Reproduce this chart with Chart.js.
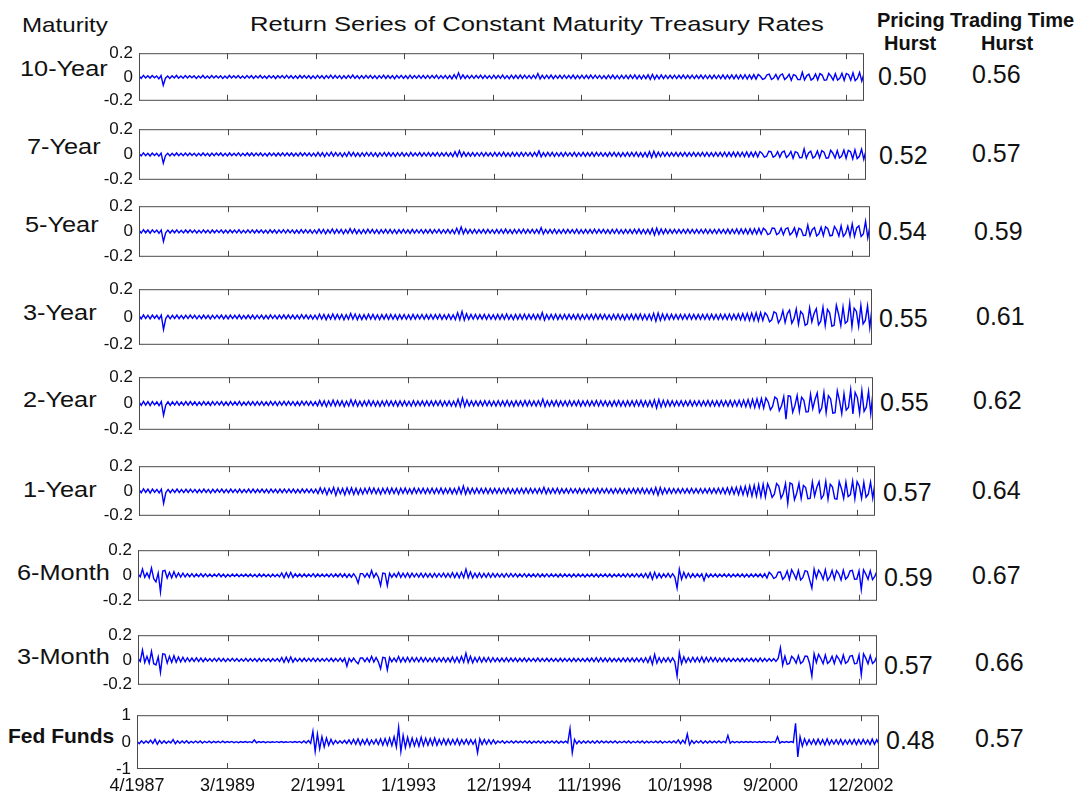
<!DOCTYPE html>
<html>
<head>
<meta charset="utf-8">
<script src="https://cdn.jsdelivr.net/npm/chart.js@4.4.1/dist/chart.umd.min.js"></script>
<style>
  body { margin: 0; background: #fff; }
  #page { position: relative; width: 1087px; height: 799px; overflow: hidden; font-family: "Liberation Sans", Arial, sans-serif; color: #111; }
  .txt { position: absolute; white-space: nowrap; line-height: 1; transform-origin: left center; }
  canvas { position: absolute; }
</style>
</head>
<body>
<div id="page"></div>
<script>
const maturities = ['10-Year', '7-Year', '5-Year', '3-Year', '2-Year', '1-Year', '6-Month', '3-Month', 'Fed Funds'];
const pricingHurst = ['0.50', '0.52', '0.54', '0.55', '0.55', '0.57', '0.59', '0.57', '0.48'];
const tradingHurst = ['0.56', '0.57', '0.59', '0.61', '0.62', '0.64', '0.67', '0.66', '0.57'];

// trading-day index on the x axis, labelled with dates
const xTickDays = [0, 500, 1000, 1500, 2000, 2500, 3000, 3500, 4000];
const xTickLabels = ['4/1987', '3/1989', '2/1991', '1/1993', '12/1994', '11/1996', '10/1998', '9/2000', '12/2002'];
const lastDay = 4100;

const rateTicks = [-0.2, 0, 0.2];
const rateTickLabels = ['-0.2', '0', '0.2'];
const fedTicks = [-1, 0, 1];
const fedTickLabels = ['-1', '0', '1'];

/* returns, in thousandths, evenly spaced over the period */
const tenYear = [
  10,-12,14,-8,11,-9,13,-6,9,-15, 12,-70,-10,9,-12,11,-8,13,-10,8,
  -11,12,-9,10,-7,11,-12,9,-8,13, -10,8,-11,12,-9,10,-8,11,-12,9,
  -10,13,-8,11,-9,12,-11,8,-10,12, -9,11,-12,10,-8,13,-10,9,-11,12,
  -8,10,-13,11,-9,12,-10,14,-9,11, -12,10,-11,13,-9,12,-10,11,-13,10,
  -12,14,-10,11,-13,12,-9,15,-11,13, -10,12,-14,11,-12,13,-10,16,-12,11,
  -13,12,-11,14,-10,13,-12,11,-14,12, -10,15,-12,13,-11,12,-14,13,-10,14,
  -12,11,-13,15,-11,12,-10,14,-12,13, -11,14,-12,13,-10,15,-13,12,-11,14,
  -13,12,-15,20,-12,35,-14,18,-12,13, -11,14,-12,13,-10,15,-12,14,-11,12,
  -13,15,-12,14,-11,16,-13,12,-14,15, -12,14,-13,16,-12,15,-11,14,-13,15,
  -12,30,-16,14,-13,15,-12,16,-14,13, -12,14,-13,15,-11,13,-12,16,-14,13,
  -12,15,-13,14,-12,16,-13,15,-11,14, -13,12,-14,15,-12,16,-14,13,-15,14,
  -13,15,-14,16,-13,17,-15,14,-16,15, -14,18,-20,22,-18,16,-15,17,-14,15,
  -13,14,-12,15,-13,14,-12,16,-13,14, -12,15,-13,14,-12,16,-14,15,-13,14,
  -14,16,-13,15,-14,17,-15,16,-14,18, -16,18,-15,17,-16,19,-17,18,-16,20,
  -18,22,6,-20,-12,19,24,-21,-8,22, -20,15,26,-22,-5,23,-28,20,12,-22,
  -22,40,-25,10,24,-26,-12,25,-24,28, 16,-27,-24,30,8,-26,28,-25,-10,32,
  -28,30,20,-27,35,-30,-12,38,-35,30
];
const sevenYear = [
  9,-11,13,-9,10,-12,12,-7,10,-13, 11,-68,-9,10,-11,10,-9,12,-10,9,
  -10,11,-9,12,-8,10,-11,9,-10,12, -9,10,-12,11,-9,11,-8,12,-11,10,
  -11,12,-9,10,-10,13,-11,9,-10,12, -10,12,-11,11,-9,12,-11,10,-12,13,
  -9,11,-12,12,-10,13,-11,13,-10,12, -12,11,-12,14,-10,13,-11,12,-13,11,
  -14,16,-13,15,-16,14,-12,18,-13,15, -12,14,-16,13,-14,20,-13,17,-15,13,
  -15,14,-13,16,-12,15,-14,13,-16,14, -12,16,-13,15,-13,14,-15,14,-12,15,
  -13,12,-14,16,-12,13,-11,15,-13,14, -12,15,-13,14,-11,16,-14,13,-12,15,
  -14,13,-16,22,-15,30,-16,19,-14,15, -13,15,-13,14,-12,16,-13,15,-12,13,
  -14,16,-13,15,-13,18,-14,13,-15,16, -13,15,-14,17,-13,16,-12,15,-14,16,
  -13,28,-18,15,-14,16,-13,17,-15,14, -13,15,-14,16,-12,14,-13,17,-15,14,
  -13,16,-14,15,-13,17,-14,16,-12,15, -14,13,-15,16,-13,17,-15,14,-16,15,
  -14,16,-15,17,-14,18,-16,15,-17,16, -18,22,-24,25,-20,18,-16,18,-15,16,
  -14,15,-13,16,-14,15,-13,17,-14,15, -13,16,-14,15,-13,17,-15,16,-14,15,
  -15,17,-14,16,-15,18,-16,17,-15,19, -17,19,-16,18,-17,20,-18,19,-17,21,
  -19,23,8,-21,-14,25,22,-21,-10,23, -21,17,27,-23,-6,24,-30,22,14,-26,
  -24,45,-28,12,26,-28,-14,27,-26,30, 18,-30,-26,33,10,-28,31,-27,-12,35,
  -30,33,22,-34,36,-32,-14,42,-38,34
];
const fiveYear = [
  11,-12,14,-10,12,-13,13,-8,11,-14, 12,-80,-10,11,-12,11,-10,13,-11,10,
  -11,12,-10,13,-9,11,-12,10,-11,13, -10,11,-13,12,-10,12,-9,13,-12,11,
  -12,13,-10,11,-11,14,-12,10,-11,13, -11,13,-12,12,-10,13,-12,11,-13,14,
  -10,12,-13,13,-11,14,-12,14,-11,13, -13,12,-13,15,-11,14,-12,13,-14,12,
  -15,18,-14,16,-18,15,-13,20,-15,17, -13,16,-18,14,-15,22,-14,19,-17,14,
  -16,15,-14,18,-13,16,-15,14,-17,15, -13,17,-14,16,-14,15,-16,15,-13,16,
  -14,13,-15,17,-13,14,-12,16,-14,15, -13,16,-14,15,-12,17,-15,14,-13,16,
  -15,14,-17,25,-17,35,-18,20,-15,16, -14,16,-14,15,-13,17,-14,16,-13,14,
  -15,17,-14,16,-14,19,-15,14,-16,17, -14,16,-15,18,-14,17,-13,16,-15,17,
  -14,30,-20,16,-15,17,-14,18,-16,15, -14,16,-15,17,-13,15,-14,18,-16,15,
  -14,17,-15,16,-14,18,-15,17,-13,16, -15,14,-16,17,-14,18,-16,15,-17,16,
  -15,17,-16,18,-15,19,-17,16,-18,17, -20,24,-28,26,-22,20,-18,19,-16,17,
  -15,16,-14,17,-15,16,-14,18,-15,16, -14,17,-15,16,-14,18,-16,17,-15,16,
  -16,18,-15,17,-16,19,-17,18,-16,20, -18,21,-17,20,-19,22,-20,21,-19,24,
  -21,26,10,-24,-16,28,25,-24,-12,27, -25,20,30,-27,-8,29,-36,25,16,-31,
  -30,50,-34,14,31,-35,-18,34,-33,38, 22,-34,-30,40,12,-36,45,-38,-15,42,
  -36,60,-40,28,45,-40,-20,80,-50,48
];
const threeYear = [
  12,-13,15,-11,13,-14,14,-9,12,-15, 13,-90,-11,12,-13,12,-11,14,-12,11,
  -12,13,-11,14,-10,12,-13,11,-12,14, -11,12,-14,13,-11,13,-10,14,-13,12,
  -13,14,-11,12,-12,15,-13,11,-12,14, -12,14,-13,13,-11,14,-13,12,-14,15,
  -11,13,-14,14,-12,15,-13,15,-12,14, -14,13,-14,16,-12,15,-13,14,-15,13,
  -16,20,-15,18,-20,17,-15,22,-16,19, -15,18,-20,16,-17,25,-16,21,-19,16,
  -18,17,-16,20,-15,18,-17,16,-19,17, -15,19,-16,18,-16,17,-18,17,-15,18,
  -16,15,-17,19,-15,16,-14,18,-16,17, -15,18,-16,17,-14,19,-17,16,-15,18,
  -17,16,-19,30,-20,40,-22,24,-17,18, -16,18,-16,17,-15,19,-16,18,-15,16,
  -17,19,-16,18,-16,21,-17,16,-18,19, -16,18,-17,20,-16,19,-15,18,-17,19,
  -16,32,-22,18,-17,19,-16,20,-18,17, -16,18,-17,19,-15,17,-16,20,-18,17,
  -16,19,-17,18,-16,20,-17,19,-15,18, -17,16,-18,19,-16,20,-18,17,-19,18,
  -17,19,-18,20,-17,21,-19,18,-20,19, -22,26,-30,28,-24,22,-20,21,-18,19,
  -17,18,-16,19,-17,18,-16,20,-17,18, -16,19,-17,18,-16,20,-18,19,-17,18,
  -18,20,-17,19,-18,21,-19,20,-18,22, -20,24,-22,26,-24,28,-25,30,-28,32,
  -25,30,10,-35,-20,38,28,-42,-15,45, -40,25,50,-45,-12,58,-52,40,20,-60,
  -50,66,-35,25,60,-56,-30,70,-62,55, 30,-66,-60,85,20,-62,72,-45,-30,100,
  -70,64,40,-68,84,-50,-25,80,-76,68
];
const twoYear = [
  13,-14,16,-12,14,-15,15,-10,13,-16, 14,-90,-12,13,-14,13,-12,15,-13,12,
  -13,14,-12,15,-11,13,-14,12,-13,15, -12,13,-15,14,-12,14,-11,15,-14,13,
  -14,15,-12,13,-13,16,-14,12,-13,15, -13,15,-14,14,-12,15,-14,13,-15,16,
  -12,14,-15,15,-13,16,-14,16,-13,15, -15,14,-15,17,-13,16,-14,15,-16,14,
  -18,22,-17,20,-22,19,-17,25,-18,21, -17,20,-22,18,-19,28,-18,23,-21,18,
  -20,19,-18,22,-17,20,-19,18,-21,19, -17,21,-18,20,-18,19,-20,19,-17,20,
  -18,17,-19,21,-17,18,-16,20,-18,19, -17,20,-18,19,-16,21,-19,18,-17,20,
  -19,18,-21,32,-22,42,-24,26,-19,20, -18,20,-18,19,-17,21,-18,20,-17,18,
  -19,21,-18,20,-18,23,-19,18,-20,21, -18,20,-19,22,-18,21,-17,20,-19,21,
  -18,34,-24,20,-19,21,-18,22,-20,19, -18,20,-19,21,-17,19,-18,22,-20,19,
  -18,21,-19,20,-18,22,-19,21,-17,20, -19,18,-20,21,-18,22,-20,19,-21,20,
  -19,21,-20,22,-19,23,-21,20,-22,21, -24,28,-34,30,-26,24,-22,23,-20,21,
  -19,20,-18,21,-19,20,-18,22,-19,20, -18,21,-19,20,-18,22,-20,21,-19,20,
  -20,22,-19,21,-20,23,-21,22,-20,24, -22,26,-24,30,-28,32,-30,35,-32,38,
  -35,42,12,-48,-22,50,35,-55,-18,52, -120,60,55,-66,-15,62,-60,48,25,-64,
  -62,70,-40,30,80,-68,-35,84,-70,60, 35,-74,-70,96,22,-78,74,-50,-30,105,
  -80,84,45,-74,98,-60,-28,92,-78,88
];
const oneYear = [
  13,-14,17,-12,15,-16,15,-10,13,-16, 14,-100,-12,13,-14,13,-12,15,-13,12,
  -13,14,-12,15,-11,13,-14,12,-13,15, -12,13,-15,14,-12,14,-11,15,-14,13,
  -14,15,-12,13,-13,16,-14,12,-13,15, -13,15,-14,14,-12,15,-14,13,-15,16,
  -12,14,-15,15,-13,16,-14,16,-13,15, -15,14,-15,17,-13,16,-14,15,-16,14,
  -20,25,-18,22,-30,20,-18,28,-35,24, -22,20,-30,26,-22,25,-28,22,-26,20,
  -24,22,-20,26,-19,24,-22,20,-25,22, -20,24,-21,23,-20,22,-24,22,-19,23,
  -20,19,-21,24,-19,20,-18,22,-20,21, -19,22,-20,21,-18,23,-21,20,-19,22,
  -21,20,-23,30,-22,40,-25,25,-21,22, -20,22,-19,21,-18,23,-20,21,-19,20,
  -19,21,-18,20,-18,22,-19,18,-20,21, -18,20,-19,22,-18,21,-17,20,-19,21,
  -18,30,-22,20,-19,21,-18,22,-20,19, -17,19,-18,20,-16,18,-17,21,-19,18,
  -17,20,-18,19,-17,21,-18,20,-16,19, -18,17,-19,20,-17,21,-19,18,-20,19,
  -18,20,-19,21,-18,22,-20,19,-21,20, -24,28,-32,28,-24,22,-20,21,-18,20,
  -18,19,-17,20,-18,19,-17,21,-18,19, -17,20,-18,19,-17,21,-19,20,-18,22,
  -20,24,-22,26,-24,28,-25,30,-28,34, -30,38,-35,42,-40,45,-42,50,-45,55,
  -48,58,14,-52,-25,60,40,-58,-20,60, -100,65,55,-70,-18,62,-60,45,28,-62,
  -60,72,-40,30,75,-62,-35,78,-65,55, 32,-62,-66,75,20,-60,72,-45,-30,80,
  -62,75,38,-60,70,-50,-25,72,-58,68
];
const sixMonth = [
  12,-10,50,-15,20,-18,60,-25,-50,20, -130,35,40,-20,25,-18,30,-15,20,-12,
  18,-12,14,-10,15,-11,12,-9,14,-10, 13,-9,11,-10,12,-8,14,-10,11,-12,
  10,-9,12,-8,11,-10,9,-8,12,-10, 11,-9,10,-11,12,-10,11,-9,10,-11,
  11,-9,10,-11,20,-18,22,-15,24,-16, 13,-10,12,-11,13,-10,12,-9,14,-12,
  12,-10,11,-9,12,-10,13,-11,12,-10, 14,-12,13,-15,12,-13,14,-12,-60,15,
  15,-13,16,-14,40,-15,18,-14,-80,20, 16,-80,18,-14,15,-13,25,-15,18,-14,
  20,-15,18,-12,16,-13,18,-14,16,-13, 15,-14,17,-13,16,-12,18,-15,16,-14,
  22,-16,20,-18,25,-17,50,-18,28,-20, 18,-15,20,-16,17,-14,18,-15,16,-13,
  15,-12,14,-13,16,-12,15,-11,14,-12, 13,-11,14,-12,13,-10,12,-11,14,-12,
  12,-10,13,-11,12,-10,11,-12,13,-11, 12,-10,11,-12,13,-11,12,-10,11,-12,
  11,-10,12,-11,13,-12,11,-10,12,-11, 13,-12,11,-10,12,-11,13,-12,14,-12,
  13,-11,14,-12,13,-15,16,-18,22,-30, 25,-20,15,-18,14,-13,16,-15,14,-13,
  -100,50,-30,25,-20,18,-16,15,-14,13, -12,14,-40,15,-13,12,-11,13,-12,11,
  -10,12,-11,13,-12,11,-10,12,-11,13, -12,11,-12,13,-11,12,-10,12,-13,14,
  -20,25,8,-22,-14,26,28,-30,-10,35, -30,45,12,-28,40,-35,-15,38,32,-35,
  -100,50,-20,42,15,-30,45,-38,-12,40, -30,38,14,-35,42,-28,-10,36,40,-30,
  -28,36,-110,45,12,-30,38,-32,-8,35
];
const threeMonth = [
  14,-12,80,-20,30,-25,70,-30,-40,25, -100,50,45,-25,30,-20,35,-18,25,-15,
  22,-14,18,-12,16,-11,17,-12,15,-13, 14,-10,12,-11,13,-10,15,-11,12,-13,
  11,-10,13,-9,12,-11,10,-9,13,-11, 12,-10,11,-12,13,-11,12,-10,11,-12,
  12,-10,11,-12,20,-18,22,-16,24,-17, 14,-11,13,-12,14,-11,13,-10,15,-13,
  13,-11,12,-10,13,-11,14,-12,13,-11, 15,-13,14,-50,13,-14,15,-13,-30,16,
  16,-14,17,-15,30,-16,20,-15,-70,22, 18,-80,20,-15,16,-14,28,-16,20,-15,
  22,-16,20,-13,18,-14,20,-15,18,-14, 16,-15,18,-14,17,-13,19,-16,17,-15,
  24,-18,22,-20,28,-18,55,-20,30,-22, 20,-16,22,-18,19,-15,20,-16,18,-14,
  16,-13,15,-14,17,-13,16,-12,15,-13, 14,-12,15,-13,14,-11,13,-12,15,-13,
  13,-11,14,-12,13,-11,12,-13,14,-12, 13,-11,12,-13,14,-12,13,-11,12,-13,
  14,-12,16,-14,18,-15,17,-14,16,-13, 15,-14,13,-12,14,-13,15,-14,16,-14,
  15,-13,16,-14,15,-17,18,-20,25,-35, 45,-25,18,-20,16,-15,18,-17,16,-15,
  -130,60,-30,25,-20,18,-16,22,-15,20, -16,24,-18,22,-14,20,-13,18,-15,16,
  -14,15,-12,14,-13,12,-11,13,-12,14, -12,13,-11,14,-12,13,-14,15,-13,12,
  -11,12,-10,12,-11,13,100,-40,30,-35, -28,30,10,-25,35,-28,-12,32,30,-28,
  -130,50,-20,45,12,-30,40,-28,-10,30, -28,35,10,-30,40,-26,-12,32,35,-30,
  -28,40,-120,50,15,-30,35,-28,-10,35
];
const fedFunds = [
  30,-60,50,-40,45,-30,70,-50,100,-80, 60,-50,45,-40,35,-30,90,-60,50,-40,
  40,-35,50,-45,30,-25,40,-30,45,-35, 30,-25,35,-30,25,-20,30,-25,35,-20,
  20,-15,25,-20,15,-20,18,-15,20,-15, 15,-20,80,-25,20,-15,18,-20,15,-12,
  12,-10,15,-12,18,-15,12,-10,15,-12, 20,-15,25,-30,40,-35,60,-50,400,-350,
  300,-250,200,-180,150,-120,100,-80,60,-50, 50,-40,60,-50,80,-70,100,-80,120,-100,
  90,-80,110,-100,80,-70,100,-90,120,-110, 130,-120,150,-130,200,-180,550,-350,250,-200,
  180,-160,150,-140,120,-150,180,-130,140,-120, 130,-110,150,-120,100,-90,120,-100,110,-90,
  100,-90,120,-100,90,-80,100,-85,90,-80, 80,-400,120,-90,100,-80,90,-70,80,-60,
  40,-30,50,-40,35,-30,45,-35,40,-30, 35,-30,40,-35,45,-40,35,-30,40,-35,
  45,-40,35,-30,40,-35,45,-40,35,-30, 35,-30,500,-400,100,-60,50,-40,45,-35,
  40,-35,45,-40,50,-35,40,-30,35,-30, 35,-30,40,-35,30,-25,35,-30,40,-35,
  30,-25,35,-30,40,-35,35,-30,30,-25, 35,-30,40,-35,30,-25,35,-30,40,-35,
  80,-60,70,-50,300,-100,60,-50,40,-30, 50,-40,45,-35,40,-30,35,-30,40,-30,
  30,-25,250,-40,30,-20,25,-20,20,-15, 20,-15,18,-15,15,-12,20,-15,18,-15,
  15,-12,15,-12,200,-40,20,-15,18,-15, 20,-15,700,-550,200,-150,120,-100,90,-80,
  100,-90,110,-80,90,-100,120,-90,80,-70, 90,-80,100,-90,80,-70,90,-80,100,-90,
  90,-80,100,-70,80,-90,110,-80,90,-80
];

const seriesList = [tenYear, sevenYear, fiveYear, threeYear, twoYear, oneYear, sixMonth, threeMonth, fedFunds];

// layout (pixel boxes of each panel's plot area, label positions)
const boxes = [
  { top: 51, bottom: 103, left: 139, right: 864 },
  { top: 127, bottom: 182, left: 139, right: 866 },
  { top: 204, bottom: 259, left: 139, right: 870 },
  { top: 287, bottom: 347, left: 139, right: 872 },
  { top: 375, bottom: 432, left: 139, right: 873 },
  { top: 464, bottom: 518, left: 139, right: 875 },
  { top: 548, bottom: 603, left: 138, right: 877 },
  { top: 633, bottom: 687, left: 138, right: 877 },
  { top: 713, bottom: 769, left: 137, right: 879 },
];
const rowLabelPos = [[20, 69], [27, 147], [25, 225], [23, 313], [23, 400], [23, 490], [17, 573], [17, 657], [8, 735]];
const pricingPos = [[878, 76], [879, 155], [878, 231], [879, 318], [880, 402], [883, 492], [884, 577], [884, 665], [886, 740]];
const tradingPos = [[972, 74], [972, 153], [974, 231], [976, 316], [973, 400], [972, 490], [972, 575], [975, 662], [975, 738]];

const FONT = '"Liberation Sans", Arial, sans-serif';
const page = document.getElementById('page');

function addText(str, x, y, css) {
  const d = document.createElement('div');
  d.className = 'txt';
  d.textContent = str;
  d.style.left = x + 'px';
  d.style.top = y + 'px';
  Object.assign(d.style, css);
  page.appendChild(d);
  return d;
}

// headings
addText('Maturity', 22, 24, { fontSize: '21px', transform: 'translateY(-50%) scaleX(1.15)' });
addText('Return Series of Constant Maturity Treasury Rates', 250, 23, { fontSize: '21px', transform: 'translateY(-50%) scaleX(1.22)' });
addText('Pricing', 877, 20, { fontSize: '20px', fontWeight: 'bold', transform: 'translateY(-50%)' });
addText('Trading Time', 950, 20, { fontSize: '20px', fontWeight: 'bold', transform: 'translateY(-50%)' });
addText('Hurst', 884, 43, { fontSize: '20px', fontWeight: 'bold', transform: 'translateY(-50%)' });
addText('Hurst', 981, 43, { fontSize: '20px', fontWeight: 'bold', transform: 'translateY(-50%)' });

maturities.forEach((name, k) => {
  const fed = k === maturities.length - 1;
  addText(name, rowLabelPos[k][0], rowLabelPos[k][1], fed
    ? { fontSize: '21px', fontWeight: 'bold', transform: 'translateY(-50%)' }
    : { fontSize: '22px', transform: 'translateY(-50%) scaleX(1.15)' });
  addText(pricingHurst[k], pricingPos[k][0], pricingPos[k][1], { fontSize: '25px', transform: 'translateY(-50%)' });
  addText(tradingHurst[k], tradingPos[k][0], tradingPos[k][1], { fontSize: '25px', transform: 'translateY(-50%)' });
});

/* box round the plot area, with MATLAB style ticks pointing inwards */
const boxTicks = {
  id: 'boxTicks',
  afterDatasetsDraw(chart) {
    const { ctx, chartArea: a } = chart;
    const x = chart.scales.x;
    ctx.save();
    ctx.strokeStyle = '#4a4a4a';
    ctx.lineWidth = 1;
    ctx.strokeRect(a.left + 0.5, a.top + 0.5, a.width - 1, a.height - 1);
    x.ticks.forEach((t) => {
      const px = Math.round(x.getPixelForValue(t.value)) + 0.5;
      ctx.beginPath();
      ctx.moveTo(px, a.top);
      ctx.lineTo(px, a.top + 6);
      ctx.moveTo(px, a.bottom);
      ctx.lineTo(px, a.bottom - 6);
      ctx.stroke();
    });
    ctx.restore();
  },
};

seriesList.forEach((values, k) => {
  const box = boxes[k];
  const last = k === seriesList.length - 1;
  const yTicks = last ? fedTicks : rateTicks;
  const yLabels = last ? fedTickLabels : rateTickLabels;
  const padL = 50, padR = 40, padT = 14, padB = last ? 34 : 14;

  const canvas = document.createElement('canvas');
  canvas.width = box.right - box.left + padL + padR;
  canvas.height = box.bottom - box.top + padT + padB;
  canvas.style.left = (box.left - padL) + 'px';
  canvas.style.top = (box.top - padT) + 'px';
  page.appendChild(canvas);

  new Chart(canvas, {
    type: 'line',
    data: {
      datasets: [{
        // thousandths -> returns, spread evenly over the trading days
        data: values.map((v, i) => ({ x: (i * lastDay) / (values.length - 1), y: v / 1000 })),
        borderColor: '#0000ff',
        borderWidth: 1.4,
        pointRadius: 0,
        tension: 0,
      }],
    },
    options: {
      responsive: false,
      animation: false,
      events: [],
      layout: { padding: { left: 0, right: padR, top: padT, bottom: last ? 0 : padB } },
      plugins: { legend: { display: false }, tooltip: { enabled: false } },
      scales: {
        x: {
          type: 'linear',
          min: 0,
          max: lastDay,
          afterBuildTicks: (s) => { s.ticks = xTickDays.map((v) => ({ value: v })); },
          afterFit: (s) => { s.height = last ? padB : 0; },
          grid: { display: false, drawTicks: false },
          border: { display: false },
          ticks: {
            display: last,
            autoSkip: false,
            maxRotation: 0,
            padding: 6,
            color: '#111',
            font: { family: FONT, size: 18 },
            callback: (v, i) => xTickLabels[i],
          },
        },
        y: {
          min: yTicks[0],
          max: yTicks[yTicks.length - 1],
          afterBuildTicks: (s) => { s.ticks = yTicks.map((v) => ({ value: v })); },
          afterFit: (s) => { s.width = padL; },
          grid: { display: false, drawTicks: false },
          border: { display: false },
          ticks: {
            padding: 6,
            color: '#111',
            font: { family: FONT, size: 17 },
            callback: (v, i) => yLabels[i],
          },
        },
      },
    },
    plugins: [boxTicks],
  });
});
</script>
</body>
</html>
